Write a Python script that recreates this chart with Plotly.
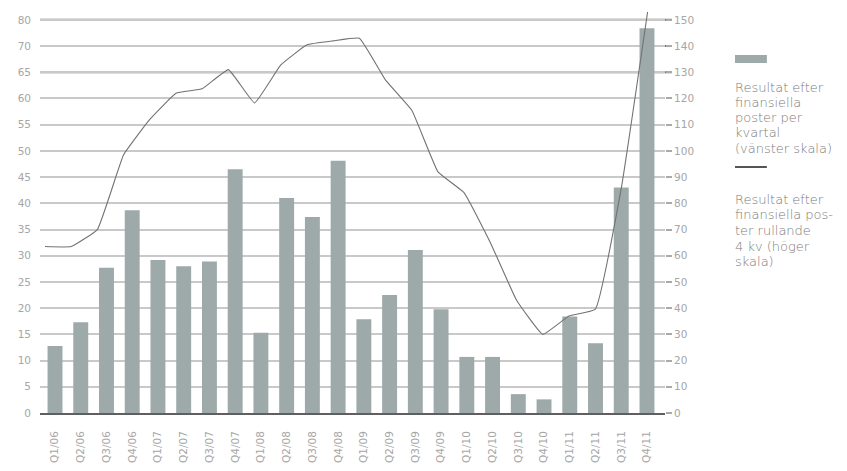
import plotly.graph_objects as go

quarters = ["Q1/06", "Q2/06", "Q3/06", "Q4/06", "Q1/07", "Q2/07", "Q3/07", "Q4/07",
            "Q1/08", "Q2/08", "Q3/08", "Q4/08", "Q1/09", "Q2/09", "Q3/09", "Q4/09",
            "Q1/10", "Q2/10", "Q3/10", "Q4/10", "Q1/11", "Q2/11", "Q3/11", "Q4/11"]

# Resultat efter finansiella poster per kvartal (vänster skala)
quarterly = [12.8, 17.3, 27.7, 38.7, 29.2, 28.0, 28.9, 46.5,
             15.3, 41.0, 37.4, 48.1, 17.9, 22.5, 31.1, 19.8,
             10.7, 10.7, 3.6, 2.6, 18.4, 13.3, 43.0, 73.4]

# Resultat efter finansiella poster rullande 4 kv (höger skala)
rolling = [63.5, 63.5, 70, 98.5, 112, 122, 123.7, 131,
           118.3, 132.8, 140.5, 142, 143, 127, 115.5, 92,
           84, 65, 43, 30, 37, 39.5, 86, 153]

left_ticks = [0, 5, 10, 15, 20, 25, 30, 35, 40, 45, 50, 55, 60, 65, 70, 75]
left_labels = ["0", "5", "10", "15", "20", "25", "30", "35", "40", "45", "50",
               "55", "60", "65", "70", "80"]
right_ticks = [0, 10, 20, 30, 40, 50, 60, 70, 80, 90, 100, 110, 120, 130, 140, 150]
dark_grid = [130, 140, 150]

legend_bar_lines = ["Resultat efter", "finansiella", "poster per", "kvartal", "(vänster skala)"]
legend_line_lines = ["Resultat efter", "finansiella pos-", "ter rullande", "4 kv (höger", "skala)"]

BAR = "#9eaaaa"
TXT = "#a6a6a6"
FONT = "DejaVu Sans"

fig = go.Figure()
fig.add_trace(go.Bar(x=quarters, y=quarterly, marker_color=BAR, marker_line_width=0,
                     xaxis="x", yaxis="y", showlegend=False))
fig.add_trace(go.Scatter(x=quarters, y=rolling, mode="lines",
                         line=dict(color="#727272", width=1.1, shape="spline", smoothing=0.3),
                         xaxis="x2", yaxis="y2", showlegend=False))

for v in dark_grid:
    fig.add_shape(type="line", xref="paper", yref="y2", x0=0, x1=1.011, y0=v, y1=v,
                  line=dict(color="#7d716c", width=2), layer="below")

# page has an 8px body margin: plot area lands at x 40..665, y 12..413 on the page
fig.update_layout(
    width=847, height=471,
    margin=dict(l=32, r=190, t=4, b=66, autoexpand=False),
    paper_bgcolor="white", plot_bgcolor="white",
    bargap=0.42,
    font=dict(family=FONT, color=TXT, size=10),
    xaxis=dict(type="category", range=[-0.583, 23.7], showgrid=False, automargin=False,
               showline=True, linecolor="#5f5f5f", linewidth=2,
               tickangle=-90, tickfont=dict(size=10.5, color=TXT),
               ticks="", ticklabelstandoff=12),
    xaxis2=dict(type="category", overlaying="x", range=[-0.191, 23.664],
                visible=False, automargin=False),
    yaxis=dict(range=[0, 76.5], tickvals=left_ticks, ticktext=left_labels, automargin=False,
               showgrid=True, gridcolor="#c9c9c9", gridwidth=1.5,
               zeroline=False, showline=False, ticks="", ticklabelstandoff=8,
               tickfont=dict(size=10.5, color=TXT)),
    yaxis2=dict(range=[0, 153], overlaying="y", side="right", tickvals=right_ticks,
                showgrid=False, zeroline=False, showline=False, automargin=False,
                ticks="outside", ticklen=6, tickwidth=1.5, tickcolor="#aaaaaa",
                tickfont=dict(size=10.5, color=TXT)),
)

# legend built from shapes + annotations (paper units relative to plot area 625x401)
def py(pix):
    return (413 - pix) / 401.0

fig.add_shape(type="rect", xref="paper", yref="paper", x0=1.112, x1=1.163,
              y0=py(63), y1=py(55), fillcolor=BAR, line_width=0)
fig.add_shape(type="line", xref="paper", yref="paper", x0=1.112, x1=1.163,
              y0=py(167), y1=py(167), line=dict(color="#555555", width=2))
for i, t in enumerate(legend_bar_lines):
    fig.add_annotation(text=t, xref="paper", yref="paper", x=1.108, y=py(88 + 15 * i),
                       xanchor="left", yanchor="middle", align="left", showarrow=False,
                       font=dict(size=13, color="#7c7c7c", family=FONT, weight=300))
for i, t in enumerate(legend_line_lines):
    fig.add_annotation(text=t, xref="paper", yref="paper", x=1.108, y=py(199 + 15.7 * i),
                       xanchor="left", yanchor="middle", align="left", showarrow=False,
                       font=dict(size=13, color="#7c7c7c", family=FONT, weight=300))

fig.write_html("out.html")
